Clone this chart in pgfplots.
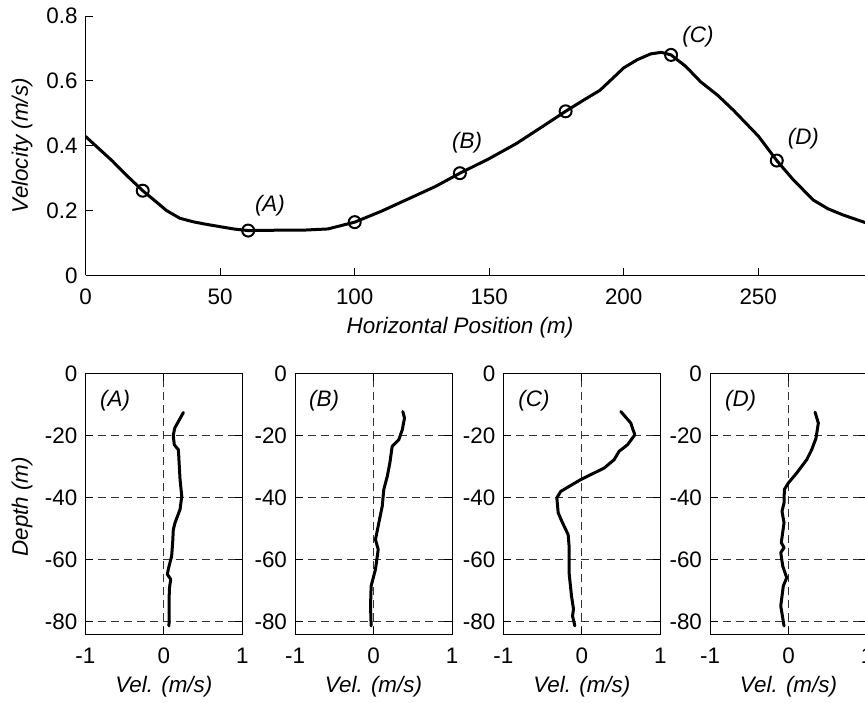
\documentclass[border=0pt]{standalone}
\usepackage{fontspec}
\setmainfont{Liberation Sans}
\usepackage{pgfplots}
\pgfplotsset{compat=1.18}

\pgfplotsset{
  mat/.style={scale only axis, anchor=south west, tick align=inside,
    major tick length=3.8pt, axis line style={line width=0.5pt},
    every tick/.style={black, line width=0.5pt},
    tick label style={font=\fontsize{11.2}{13}\selectfont},
    xticklabel style={yshift=-3.2pt}, yticklabel style={xshift=-0.5pt},
    label style={font=\fontsize{11.2}{13}\selectfont\itshape},
    /pgf/number format/assume math mode=true, clip=true},
  panel/.style={mat, width=78.5pt, height=130.5pt,
    xmin=-1, xmax=1, ymin=-84, ymax=0,
    xtick={-1,0,1}, ytick={0,-20,-40,-60,-80},
    grid=major, grid style={black!80, line width=0.5pt, dash pattern=on 4pt off 2.5pt},
    xlabel={Vel. (m/s)},
    xlabel style={at={(axis description cs:0.5,-0.2008)}, anchor=center}}
}
\tikzset{
  prof/.style={black, line width=1.5pt, line join=round, line cap=round},
  tag/.style={font=\fontsize{11.2}{13}\selectfont\itshape, anchor=center}
}

\begin{document}
\begin{tikzpicture}
\useasboundingbox (0,0) rectangle (432.5pt,351pt);
\clip (0,0) rectangle (432.5pt,351pt);

% top: surface velocity along the transect
\begin{axis}[mat, at={(42.85pt,213.35pt)}, width=403.5pt, height=129.65pt,
  axis lines*=left, xmin=0, xmax=300, ymin=0, ymax=0.8,
  xtick={0,50,...,300}, ytick={0,0.2,0.4,0.6,0.8},
  xlabel={Horizontal Position (m)}, ylabel={Velocity (m/s)},
  xlabel style={at={(axis description cs:0.4638,-0.2005)}, anchor=center},
  ylabel style={at={(axis description cs:-0.0789,0.5)}, anchor=center}]
\addplot[prof] coordinates {
 (0,0.428) (5,0.39) (10,0.352) (15,0.31) (21.2,0.261) (25,0.235) (27.6,0.217)
 (30,0.2) (35,0.176) (40,0.165) (45,0.157) (50,0.15) (55,0.143) (60.4,0.138)
 (70,0.139) (80,0.139) (90,0.143) (100,0.164) (110,0.198) (120,0.236)
 (130,0.274) (139.1,0.315) (150,0.36) (160,0.406) (170,0.46) (178.4,0.506)
 (185,0.54) (191.2,0.571) (200,0.64) (205,0.665) (210,0.683) (214,0.688)
 (217.6,0.68) (223,0.645) (228.6,0.597) (235,0.555) (240.7,0.51) (250,0.43)
 (256.9,0.354) (263,0.295) (270.5,0.232) (276,0.205) (281.6,0.186)
 (290,0.162) (300,0.15)};
\addplot[only marks, mark=o, mark size=3pt, mark options={line width=1pt}, black] coordinates {
 (21.2,0.261) (60.4,0.138) (100,0.164) (139.1,0.315) (178.4,0.506) (217.6,0.68) (256.9,0.354)};
\node[tag] at (axis cs:68.5,0.214) {(A)};
\node[tag] at (axis cs:141.8,0.408) {(B)};
\node[tag] at (axis cs:227.6,0.736) {(C)};
\node[tag] at (axis cs:266.8,0.42) {(D)};
\end{axis}

% profile A
\begin{axis}[panel, at={(42.65pt,33.85pt)}, ylabel={Depth (m)},
  ylabel style={at={(axis description cs:-0.403,0.489)}, anchor=center}]
\addplot[prof] coordinates {
 (0.25,-12.6) (0.14,-17.6) (0.12,-20) (0.134,-23) (0.186,-24.6) (0.207,-34.2)
 (0.229,-39.6) (0.207,-43.8) (0.143,-48.1) (0.121,-50.3) (0.113,-54.5)
 (0.1,-58.8) (0.057,-63.1) (0.045,-64.7) (0.088,-66.3) (0.07,-69.5) (0.066,-81.3)};
\node[tag] at (axis cs:-0.62,-8.8) {(A)};
\end{axis}

% profile B
\begin{axis}[panel, at={(147.5pt,33.85pt)}]
\addplot[prof] coordinates {
 (0.373,-12.3) (0.395,-14.4) (0.366,-18.2) (0.322,-21.4) (0.238,-23.5)
 (0.208,-28.9) (0.175,-33.2) (0.131,-37.4) (0.111,-42.8) (0.068,-48.1)
 (0.025,-53.5) (0.06,-56.7) (0.025,-63.1) (-0.03,-68.4) (-0.038,-74.9) (-0.03,-81.3)};
\node[tag] at (axis cs:-0.63,-8.8) {(B)};
\end{axis}

% profile C
\begin{axis}[panel, at={(251.65pt,33.85pt)}]
\addplot[prof] coordinates {
 (0.497,-12.3) (0.624,-16) (0.675,-19.8) (0.582,-23) (0.475,-25.1) (0.412,-27.8)
 (0.284,-30.5) (0.115,-32.6) (-0.013,-34.2) (-0.162,-36.4) (-0.268,-38)
 (-0.318,-40.1) (-0.301,-44.9) (-0.246,-48.1) (-0.174,-51.9) (-0.162,-55.6)
 (-0.162,-64.2) (-0.149,-67.4) (-0.131,-71.7) (-0.106,-75.9) (-0.118,-78.1) (-0.089,-81.3)};
\node[tag] at (axis cs:-0.61,-8.8) {(C)};
\end{axis}

% profile D
\begin{axis}[panel, at={(355pt,33.85pt)}]
\addplot[prof] coordinates {
 (0.338,-12.5) (0.38,-16) (0.35,-20.9) (0.295,-24.6) (0.232,-27.8) (0.104,-32.1)
 (-0.002,-35.3) (-0.053,-37.4) (-0.057,-41.7) (-0.083,-44.4) (-0.057,-48.1)
 (-0.092,-54.5) (-0.057,-56.1) (-0.099,-57.7) (-0.074,-62) (-0.023,-65.8)
 (-0.066,-68.4) (-0.099,-74.9) (-0.057,-81.3)};
\node[tag] at (axis cs:-0.61,-8.8) {(D)};
\end{axis}
\end{tikzpicture}
\end{document}
